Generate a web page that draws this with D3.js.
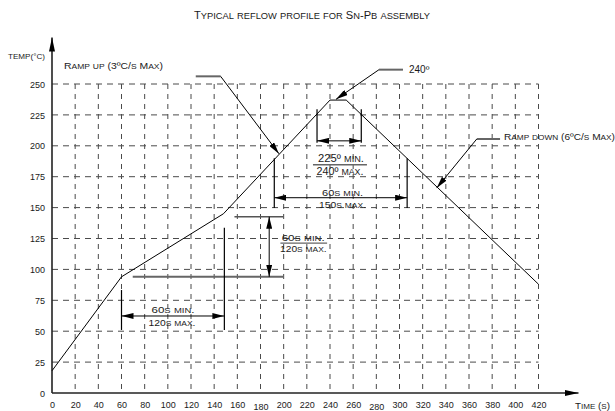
<!DOCTYPE html>
<html><head><meta charset="utf-8">
<script src="https://cdn.jsdelivr.net/npm/d3@7"></script>
<style>body{margin:0;background:#fff}svg{display:block}</style>
</head><body>
<svg id="c" width="615" height="411"></svg>
<script>
// ---- data ----
const profileTime = [0, 60, 148, 240, 254, 420];
const profileTemp = [18, 94, 145, 237, 237, 88];
const xTickValues = [0,20,40,60,80,100,120,140,160,180,200,220,240,260,280,300,320,340,360,380,400,420];
const yTickValues = [0,25,50,75,100,125,150,175,200,225,250];
const xTickLowered = [180, 280];
const titleText = "Typical reflow profile for Sn-Pb assembly";
const yAxisTitle = "TEMP(°C)";
const xAxisTitle = "Time (s)";
const rampUpLabel = "Ramp up (3ºC/s Max)";
const rampDownLabel = "Ramp down (6ºC/s Max)";
const peakLabel = "240º";
const peakTexts = ["225º min.", "240º max."];
const liquidusTexts = ["60s min.", "150s max."];
const preheatTempTexts = ["60s min.", "120s max."];
const preheatTimeTexts = ["60s min.", "120s max."];

// ---- setup ----
const svg = d3.select("#c");
const x = d3.scaleLinear().domain([0, 420]).range([52, 538.5]);
const y = d3.scaleLinear().domain([0, 250]).range([393, 84]);
const FONT = "'Liberation Sans', Arial, sans-serif";
const INK = "#1a1a1a";

const defs = svg.append("defs");
defs.append("marker").attr("id","arr").attr("viewBox","0 0 12 6")
  .attr("refX",12).attr("refY",3).attr("markerWidth",12).attr("markerHeight",6)
  .attr("markerUnits","userSpaceOnUse").attr("orient","auto-start-reverse")
  .append("path").attr("d","M0,0L12,3L0,6Z").attr("fill","#000");
defs.append("marker").attr("id","arrL").attr("viewBox","0 0 14 6")
  .attr("refX",14).attr("refY",3).attr("markerWidth",14).attr("markerHeight",6)
  .attr("markerUnits","userSpaceOnUse").attr("orient","auto-start-reverse")
  .append("path").attr("d","M0,0L14,3L0,6Z").attr("fill","#000");

// small-caps text: lowercase runs drawn as smaller capitals
function scText(str, px, py, fs, w, anchor, ratio){
  ratio = ratio || 0.82;
  const t = svg.append("text").attr("x",px).attr("y",py).attr("text-anchor",anchor||"start")
    .attr("font-family",FONT).attr("fill",INK);
  if (w) t.attr("textLength",w).attr("lengthAdjust","spacingAndGlyphs");
  const runs = [];
  for (const ch of str){
    const low = ch !== ch.toUpperCase();
    if (runs.length && runs[runs.length-1].low === low) runs[runs.length-1].s += ch;
    else runs.push({low, s: ch});
  }
  t.selectAll("tspan").data(runs).join("tspan")
    .attr("font-size", d => d.low ? fs*ratio : fs)
    .text(d => d.low ? d.s.toUpperCase() : d.s);
  return t;
}

// title
scText(titleText, 312, 19, 10, 236, "middle", 0.84);

// grid
const grid = svg.append("g").attr("stroke","#4a4a4a").attr("stroke-width",1).attr("fill","none");
grid.selectAll("line.h").data(yTickValues.filter(d=>d>0)).join("line")
  .attr("x1",x(0)).attr("x2",x(420)).attr("y1",d=>y(d)).attr("y2",d=>y(d))
  .attr("stroke-dasharray","6,5");
grid.selectAll("line.v").data(xTickValues.filter(d=>d>0)).join("line")
  .attr("x1",d=>x(d)).attr("x2",d=>x(d)).attr("y1",y(250)).attr("y2",y(0))
  .attr("stroke-dasharray","5,5");

// axes (labels via d3 axes)
const gx = svg.append("g").attr("transform",`translate(0,${y(0)})`)
  .call(d3.axisBottom(x).tickValues(xTickValues).tickSize(0).tickPadding(0));
gx.select(".domain").remove();
gx.selectAll("text").attr("font-family",FONT).attr("font-size",9).attr("fill",INK)
  .attr("dy",null).attr("y",15)
  .filter(d=>xTickLowered.includes(d)).attr("y",16.5);
const gy = svg.append("g").attr("transform",`translate(45,0)`)
  .call(d3.axisLeft(y).tickValues(yTickValues).tickSize(0).tickPadding(0));
gy.select(".domain").remove();
gy.selectAll("text").attr("font-family",FONT).attr("font-size",9).attr("fill",INK)
  .attr("dy","0.35em");

// axis lines with arrows
svg.append("line").attr("x1",x(0)).attr("y1",y(0)).attr("x2",x(0)).attr("y2",37.5)
  .attr("stroke","#222").attr("stroke-width",1.6).attr("marker-end","url(#arrL)");
svg.append("line").attr("x1",x(0)).attr("y1",y(0)).attr("x2",578.5).attr("y2",y(0))
  .attr("stroke","#222").attr("stroke-width",1.6).attr("marker-end","url(#arrL)");

svg.append("text").attr("x",8).attr("y",59).attr("font-family",FONT).attr("font-size",7)
  .attr("textLength",37).attr("lengthAdjust","spacingAndGlyphs").attr("fill",INK).text(yAxisTitle);
scText(xAxisTitle, 575, 408.5, 9.5, 35, "start", 0.82);

// profile
const line = d3.line().x(d=>x(d[0])).y(d=>y(d[1]));
svg.append("path").datum(profileTime.map((t,i)=>[t,profileTemp[i]]))
  .attr("d",line).attr("fill","none").attr("stroke","#000").attr("stroke-width",1);

// helpers
function seg(t1,T1,t2,T2,opts){
  const l = svg.append("line").attr("x1",x(t1)).attr("y1",y(T1)).attr("x2",x(t2)).attr("y2",y(T2))
    .attr("stroke",opts.color||"#000").attr("stroke-width",opts.w||1);
  if(opts.end) l.attr("marker-end","url(#arr)");
  if(opts.start) l.attr("marker-start","url(#arr)");
  return l;
}

// ramp up leader
seg(124.1,256.2,145.6,256.2,{color:"#666",w:2});
seg(145.6,256.2,195.9,193.6,{end:true});
scText(rampUpLabel,64,69,9.5,99);

// peak leader
seg(282.3,261.6,303,261.6,{color:"#666",w:2});
seg(282.3,261.6,245.2,237.6,{end:true});
svg.append("text").attr("x",409).attr("y",73).attr("font-family",FONT).attr("font-size",10)
  .attr("fill",INK).text(peakLabel);

// ramp down leader
seg(366.7,205.5,386.8,205.5,{color:"#666",w:2});
seg(366.7,205.5,332.1,165.8,{end:true});
scText(rampDownLabel,504,140,9.5,111);

// peak dimension (225 min / 240 max)
seg(228.8,229.5,228.8,202.5,{w:1.2});
seg(267,229.5,267,202.5,{w:1.2});
seg(228.8,204,267,204,{start:true,end:true});
scText(peakTexts[0],341,161.5,10.5,46,"middle");
seg(225.3,184.7,271.9,184.7,{color:"#666",w:1.5});
scText(peakTexts[1],340,175,10.5,47,"middle");

// liquidus dimension (60 min / 150 max)
seg(191.9,190,191.9,149.7,{w:1.2});
seg(306.6,190,306.6,149.7,{w:1.2});
seg(191.9,158,306.6,158,{start:true,end:true});
scText(liquidusTexts[0],342.5,195.7,9,41,"middle");
scText(liquidusTexts[1],342.5,208,9,47,"middle");

// preheat temperature dimension
seg(157.5,142.6,199.8,142.6,{color:"#555",w:1.5});
seg(69.7,94,199.8,94,{color:"#666",w:2});
seg(187.5,142.6,187.5,94,{start:true,end:true});
scText(preheatTempTexts[0],281.7,241,9,43);
seg(197.2,121.2,237.5,121.2,{color:"#666",w:1.3});
scText(preheatTempTexts[1],280,251.7,9,46.7);

// preheat time dimension
seg(60,83.3,60,51,{w:1.2});
seg(148.8,133.7,148.8,51,{w:1.2});
seg(60,62.3,148.8,62.3,{start:true,end:true});
scText(preheatTimeTexts[0],173,313,9,43,"middle");
scText(preheatTimeTexts[1],172,326,9,47,"middle");
</script>
</body></html>
